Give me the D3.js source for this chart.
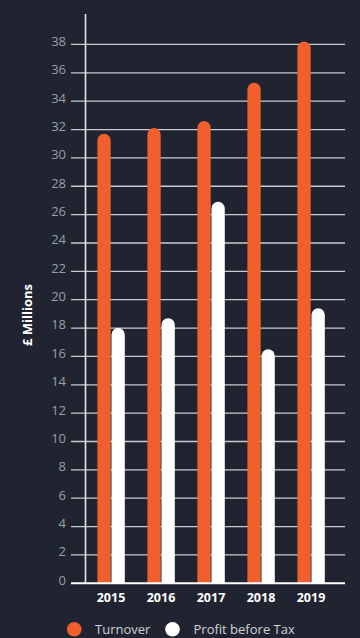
<!DOCTYPE html>
<html>
<head>
<meta charset="utf-8">
<script src="https://cdn.jsdelivr.net/npm/d3@7"></script>
<style>
  html, body { margin: 0; padding: 0; background: #1f2430; }
  svg { display: block; font-family: "Open Sans", "Noto Sans", sans-serif; }
</style>
</head>
<body>
<svg id="chart" width="360" height="638"></svg>
<script>
// Financial results, £ millions
const years = ["2015", "2016", "2017", "2018", "2019"];
const turnover = [31.7, 32.1, 32.6, 35.3, 38.2];
const profitBeforeTax = [18.0, 18.7, 26.9, 16.5, 19.4];
const yTicks = [0, 2, 4, 6, 8, 10, 12, 14, 16, 18, 20, 22, 24, 26, 28, 30, 32, 34, 36, 38];
const seriesNames = ["Turnover", "Profit before Tax"];
const seriesColors = ["#f15f2d", "#ffffff"];

const svg = d3.select("#chart");
const W = 360, H = 638;

const x = d3.scaleBand().domain(years).range([86, 336]).paddingInner(0).paddingOuter(0);
const y = d3.scaleLinear().domain([0, 40]).range([583.3, 16.1]);
const barW = 13.3;

// Grid lines extending left past the axis line
const gridLeft = 71, gridRight = 345;
svg.append("g").selectAll("line")
  .data(yTicks.filter(d => d !== 0))
  .join("line")
  .attr("x1", gridLeft).attr("x2", gridRight)
  .attr("y1", d => y(d)).attr("y2", d => y(d))
  .attr("stroke", "#c9cbd0").attr("stroke-width", 1.3);

// Vertical axis line
svg.append("line")
  .attr("x1", 85.5).attr("x2", 85.5)
  .attr("y1", 14).attr("y2", y(0))
  .attr("stroke", "#e4e5e8").attr("stroke-width", 1.6);

// Tick labels
svg.append("g").selectAll("text")
  .data(yTicks)
  .join("text")
  .attr("x", 66).attr("y", d => y(d) + 1.4)
  .attr("text-anchor", "end")
  .attr("font-size", 13)
  .attr("fill", "#9a9ea6")
  .text(d => d);

// Bars with rounded tops
function roundedBar(x0, w, yTop, yBase) {
  const r = w / 2;
  const h = yBase - yTop;
  if (h < r) return `M${x0},${yBase}h${w}z`;
  return `M${x0},${yBase}V${yTop + r}A${r},${r} 0 0 1 ${x0 + w},${yTop + r}V${yBase}Z`;
}

const groups = svg.append("g").selectAll("g")
  .data(years.map((yr, i) => ({ yr, vals: [turnover[i], profitBeforeTax[i]] })))
  .join("g");

groups.selectAll("path")
  .data(d => d.vals.map((v, k) => ({ yr: d.yr, v, k })))
  .join("path")
  .attr("d", d => {
    const cx = x(d.yr) + x.bandwidth() / 2;
    const x0 = d.k === 0 ? cx - barW - 0.3 : cx + 0.5;
    return roundedBar(x0, barW, y(d.v), y(0));
  })
  .attr("fill", d => seriesColors[d.k]);

// Baseline
svg.append("line")
  .attr("x1", gridLeft).attr("x2", gridRight)
  .attr("y1", y(0)).attr("y2", y(0))
  .attr("stroke", "#ffffff").attr("stroke-width", 2);

// Year labels
svg.append("g").selectAll("text")
  .data(years)
  .join("text")
  .attr("x", d => x(d) + x.bandwidth() / 2)
  .attr("y", 601.5)
  .attr("text-anchor", "middle")
  .attr("font-size", 12.5)
  .attr("font-weight", "bold")
  .attr("fill", "#ffffff")
  .text(d => d);

// Y axis title
svg.append("text")
  .attr("transform", "translate(32,315) rotate(-90)")
  .attr("text-anchor", "middle")
  .attr("font-size", 13)
  .attr("font-weight", "bold")
  .attr("fill", "#ffffff")
  .text("£ Millions");

// Legend
const legendItems = [
  { name: seriesNames[0], color: seriesColors[0], cx: 74.2, tx: 95 },
  { name: seriesNames[1], color: seriesColors[1], cx: 172.5, tx: 193.5 }
];
const lg = svg.append("g").selectAll("g").data(legendItems).join("g");
lg.append("circle")
  .attr("cx", d => d.cx).attr("cy", 629.3).attr("r", 7.3)
  .attr("fill", d => d.color);
lg.append("text")
  .attr("x", d => d.tx).attr("y", 634)
  .attr("font-size", 13)
  .attr("fill", "#cfd1d5")
  .text(d => d.name);
</script>
</body>
</html>
